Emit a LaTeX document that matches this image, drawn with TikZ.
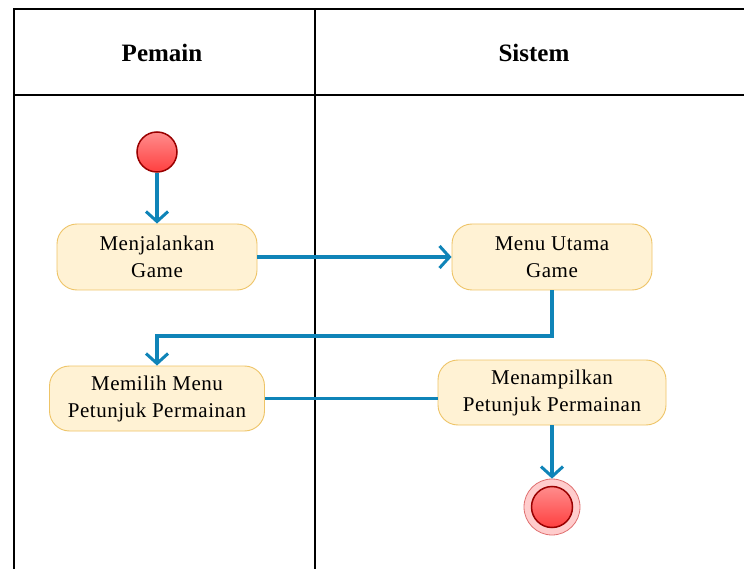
\documentclass[tikz,border=0pt]{standalone}
\usepackage{fontspec}
\setmainfont{Liberation Serif}
\newfontfamily\actfont[LetterSpace=2.5]{Liberation Serif}
\usetikzlibrary{arrows.meta,calc}
\definecolor{flow}{HTML}{0F84B8}
\definecolor{actfill}{HTML}{FFF2D4}
\definecolor{actline}{HTML}{EEC467}
\definecolor{darkred}{HTML}{990000}
\definecolor{pinkfill}{HTML}{FFCCCC}
\definecolor{pinkline}{HTML}{E07070}
\tikzset{
  lane/.style={line width=2pt, black},
  act/.style={draw=actline, fill=actfill, line width=0.9pt, rounded corners=20pt,
    align=center, font=\actfont\fontsize{21}{27}\selectfont, inner sep=0pt},
  flowline/.style={draw=flow, line width=3.2pt},
  flowarrow/.style={flowline, -{Straight Barb[length=10pt,width=22pt,line width=3pt]}},
  dot/.style={circle, draw=darkred, line width=1.5pt, top color=red!45!white, bottom color=red!75!white, inner sep=0pt},
  hdr/.style={font=\fontsize{25}{28}\selectfont\bfseries}
}
\begin{document}
\begin{tikzpicture}[x=1pt,y=-1pt]
\useasboundingbox (0,0) rectangle (744,569);
\fill[white] (0,0) rectangle (744,569);
\begin{scope}
\clip (0,0) rectangle (744,569);
\draw[lane] (14,580) -- (14,9) -- (760,9);
\draw[lane] (14,95) -- (760,95);
\draw[lane] (315,9) -- (315,580);
\end{scope}
\node[hdr] (h1) at (162,53) {Pemain};
\node[hdr] (h2) at (534,53) {Sistem};

\node[dot, minimum size=40pt] (s) at (157,152) {};
\node[act, minimum width=200pt, minimum height=66pt] (b1) at (157,257) {Menjalankan\\Game};
\node[act, minimum width=200pt, minimum height=66pt] (b2) at (552,257) {Menu Utama\\Game};
\node[act, minimum width=215pt, minimum height=65pt] (b3) at (157,398.5) {Memilih Menu\\Petunjuk Permainan};
\node[act, minimum width=228pt, minimum height=65pt] (b4) at (552,392.5) {Menampilkan\\Petunjuk Permainan};
\node[circle, draw=pinkline, fill=pinkfill, line width=0.8pt, minimum size=56pt, inner sep=0pt] (e) at (552,507) {};
\node[dot, minimum size=41pt] (ei) at (552,507) {};

\coordinate (j) at (157,336);
\draw[flowarrow] (s) -- (b1);
\draw[flowarrow] (b1) -- (b2);
\draw[flowarrow] (b2.south) |- (j) -- (b3.north);
\draw[flowline] (b3.east) -- (b3.east -| b4.west);
\draw[flowarrow] (b4.south) -- (e.north);
\end{tikzpicture}
\end{document}
